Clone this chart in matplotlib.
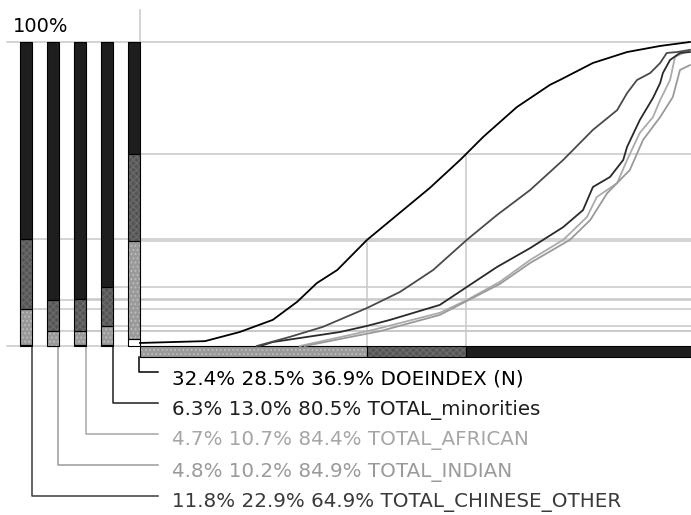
import numpy as np
import matplotlib
matplotlib.use("Agg")
import matplotlib.pyplot as plt

plt.rcParams['font.family'] = ['DejaVu Sans']
plt.rcParams['hatch.linewidth'] = 0.8

# stacked shares per variable (left to right): low, middle, high class
names = ["TOTAL_CHINESE_OTHER", "TOTAL_INDIAN", "TOTAL_AFRICAN",
         "TOTAL_minorities", "DOEINDEX (N)"]
low = [11.8, 4.8, 4.7, 6.3, 32.4]
mid = [22.9, 10.2, 10.7, 13.0, 28.5]
high = [64.9, 84.9, 84.4, 80.5, 36.9]

# shares along the horizontal axis (bottom strip)
x_shares = [41.2, 18.0, 40.8]

# concentration curves (cumulative %)
doe_x = [0, 11.8, 18.1, 24.1, 28.5, 32.1, 35.8, 41.2, 52.6, 58.1, 62.3, 68.4,
         74.4, 76.2, 82.2, 88.4, 94.4, 99.8]
doe_y = [1.0, 1.6, 4.6, 8.6, 14.5, 20.7, 25.0, 34.9, 52.0, 61.2, 68.8, 78.6,
         85.9, 87.5, 93.1, 96.7, 98.7, 100]

chinese_x = [21.2, 27.2, 33.2, 41.2, 47.2, 53.2, 59.3, 64.8, 70.8, 76.8, 82.2,
             86.6, 88.4, 90.2, 92.6, 94.4, 95.6, 97.5, 99.8]
chinese_y = [0, 3.0, 6.3, 12.5, 17.8, 25.0, 34.9, 43.1, 51.3, 61.2, 71.1,
             77.6, 83.2, 87.5, 89.8, 93.1, 96.4, 96.7, 97.4]

minor_x = [21.8, 24.1, 36.3, 41.2, 45.4, 54.4, 59.3, 64.8, 70.8, 76.8, 80.4,
           82.2, 85.3, 87.7, 88.4, 90.7, 93.1, 94.4, 94.9, 96.2, 98.0, 99.8]
minor_y = [0, 1.3, 4.6, 6.6, 8.6, 13.5, 19.4, 26.0, 32.2, 39.1, 44.7, 52.3,
           55.6, 61.2, 65.5, 74.3, 81.6, 86.5, 89.8, 94.1, 96.4, 96.7]

african_x = [29.0, 42.3, 54.4, 59.3, 65.3, 70.8, 76.8, 81.1, 82.9, 86.6, 88.4,
             90.7, 93.1, 94.4, 96.2, 97.1, 99.8]
african_y = [0, 5.3, 10.9, 15.1, 21.1, 28.3, 34.9, 42.4, 49.0, 53.6, 61.2,
             70.1, 75.3, 80.9, 87.5, 95.1, 97.4]

indian_x = [29.9, 43.6, 54.4, 59.3, 65.3, 70.8, 78.0, 81.7, 84.8, 88.9, 91.3,
            94.4, 96.7, 98.0, 99.8]
indian_y = [0, 4.9, 10.2, 14.8, 20.4, 27.3, 34.9, 41.4, 50.3, 57.9, 67.8,
            75.3, 81.9, 90.8, 92.4]

curves = [(chinese_x, chinese_y), (indian_x, indian_y), (african_x, african_y),
          (minor_x, minor_y), (doe_x, doe_y)]

# styles
curve_colors = ['#4a4a4a', '#9a9a9a', '#ababab', '#2a2a2a', '#000000']
text_colors = ['#3a3a3a', '#9a9a9a', '#a6a6a6', '#1e1e1e', '#000000']
grid = '#c8c8c8'
c_low, c_mid, c_high = '#9a9a9a', '#555555', '#1e1e1e'

W, H = 691, 515
L, R, T, B = 140, 691, 42, 346
fig = plt.figure(figsize=(W / 100, H / 100), dpi=100)
ax = fig.add_axes([L / W, 1 - B / H, (R - L) / W, (B - T) / H])
ax.set_xlim(0, 100)
ax.set_ylim(0, 100)
ax.axis('off')

ux = 100 / (R - L)
uy = 100 / (B - T)


def px_x(p):
    return (p - L) * ux


def px_y(p):
    return (B - p) * uy


bar_cx = [px_x(c) for c in (26, 53, 80, 107, 134)]
conn_x = [px_x(c) for c in (32, 58, 86, 113, 139)]
bw = 12 * ux

# grid lines
ax.plot([px_x(7), 100], [100, 100], color=grid, lw=1.1, clip_on=False, zorder=1)
ax.plot([px_x(7), 0], [0, 0], color=grid, lw=1.1, clip_on=False, zorder=1)
ax.plot([0, 0], [0, px_y(10)], color=grid, lw=1.1, clip_on=False, zorder=1)

bounds = []
for i in range(len(names)):
    rem = 100 - (low[i] + mid[i] + high[i])
    b1 = rem + low[i]
    b2 = b1 + mid[i]
    bounds.append((rem, b1, b2))
    for yb in (b1, b2):
        ax.plot([bar_cx[i], 100], [yb, yb], color=grid, lw=1.1, clip_on=False, zorder=1)

xb = np.cumsum(x_shares)
ax.plot([xb[0], xb[0]], [0, bounds[-1][1]], color=grid, lw=1.1, zorder=1)
ax.plot([xb[1], xb[1]], [0, bounds[-1][2]], color=grid, lw=1.1, zorder=1)

# left stacked bars
for i in range(len(names)):
    rem, b1, b2 = bounds[i]
    segs = [(0, rem, 'white', None, 'white'),
            (rem, low[i], c_low, '....', '#bdbdbd'),
            (b1, mid[i], c_mid, 'xxxxx', '#6c6c6c'),
            (b2, high[i], c_high, None, c_high)]
    for bot, h, fc, hatch, hc in segs:
        ax.bar(bar_cx[i], h, bottom=bot, width=bw, color=fc, hatch=hatch,
               edgecolor=hc, lw=0, clip_on=False, zorder=3)
        ax.bar(bar_cx[i], h, bottom=bot, width=bw, fill=False,
               edgecolor='black', lw=0.8, clip_on=False, zorder=3.5)

# bottom strip
hh = 11 * uy
left = 0
for share, fc, hatch, hc in zip(x_shares, [c_low, c_mid, c_high],
                                ['....', 'xxxxx', None], ['#bdbdbd', '#6c6c6c', c_high]):
    ax.barh(-hh / 2, share, left=left, height=hh, color=fc, hatch=hatch,
            edgecolor=hc, lw=0, clip_on=False, zorder=3)
    ax.barh(-hh / 2, share, left=left, height=hh, fill=False,
            edgecolor='black', lw=0.8, clip_on=False, zorder=3.5)
    left += share

# curves
for i in [2, 1, 3, 0, 4]:
    cx, cy = curves[i]
    ax.plot(cx, cy, color=curve_colors[i], lw=1.3, zorder=4, clip_on=False)

# labels with connectors
for i in range(len(names)):
    row = len(names) - 1 - i
    ly = px_y(372 + 31 * row)
    start = -hh if i == len(names) - 1 else 0
    ax.plot([conn_x[i], conn_x[i], px_x(158)], [start, ly, ly],
            color=text_colors[i], lw=1.1, clip_on=False, zorder=2)
    ax.text(px_x(172), ly - 7 * uy,
            f"{low[i]:.1f}% {mid[i]:.1f}% {high[i]:.1f}% {names[i]}",
            fontsize=14.3, color=text_colors[i], va='center', ha='left')

ax.text(px_x(13), px_y(26), "100%", fontsize=14, va='center', ha='left')

fig.savefig("out.png", dpi=100)
